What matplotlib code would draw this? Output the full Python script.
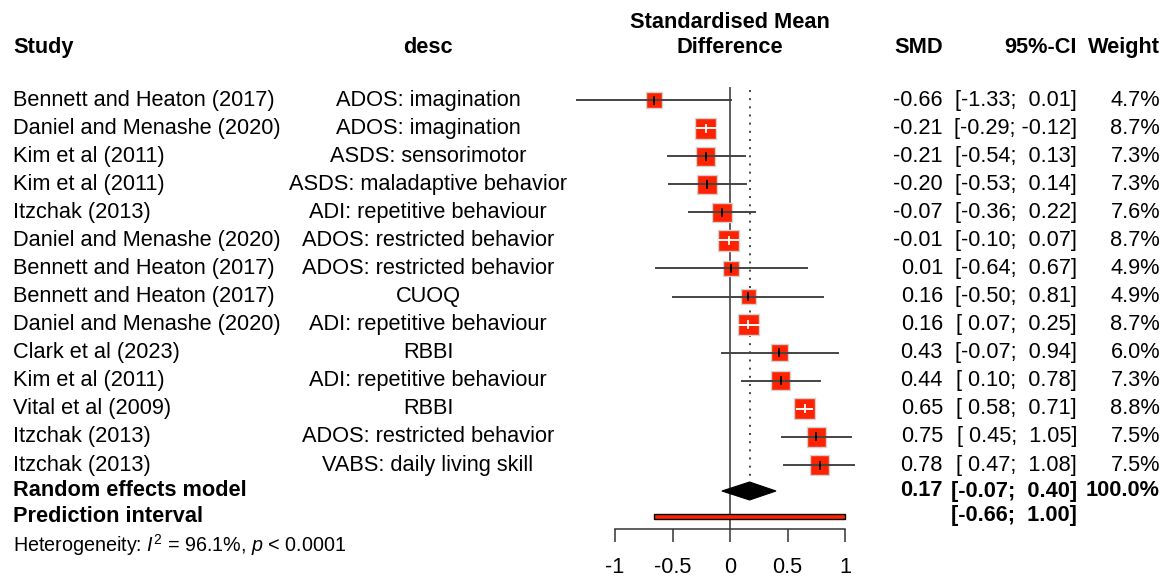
import matplotlib
matplotlib.use("Agg")
import matplotlib.pyplot as plt
from matplotlib.patches import Rectangle, Polygon
from matplotlib.transforms import blended_transform_factory

plt.rcParams["font.family"] = ["Liberation Sans", "DejaVu Sans"]
plt.rcParams["mathtext.fontset"] = "custom"
plt.rcParams["mathtext.rm"] = "Liberation Sans"
plt.rcParams["mathtext.it"] = "Liberation Sans:italic"

studies = ["Bennett and Heaton (2017)", "Daniel and Menashe (2020)", "Kim et al (2011)",
           "Kim et al (2011)", "Itzchak (2013)", "Daniel and Menashe (2020)",
           "Bennett and Heaton (2017)", "Bennett and Heaton (2017)", "Daniel and Menashe (2020)",
           "Clark et al (2023)", "Kim et al (2011)", "Vital et al (2009)",
           "Itzchak (2013)", "Itzchak (2013)"]
desc = ["ADOS: imagination", "ADOS: imagination", "ASDS: sensorimotor",
        "ASDS: maladaptive behavior", "ADI: repetitive behaviour", "ADOS: restricted behavior",
        "ADOS: restricted behavior", "CUOQ", "ADI: repetitive behaviour", "RBBI",
        "ADI: repetitive behaviour", "RBBI", "ADOS: restricted behavior",
        "VABS: daily living skill"]
smd = [-0.66, -0.21, -0.21, -0.20, -0.07, -0.01, 0.01, 0.16, 0.16, 0.43, 0.44, 0.65, 0.75, 0.78]
ci_lo = [-1.33, -0.29, -0.54, -0.53, -0.36, -0.10, -0.64, -0.50, 0.07, -0.07, 0.10, 0.58, 0.45, 0.47]
ci_hi = [0.01, -0.12, 0.13, 0.14, 0.22, 0.07, 0.67, 0.81, 0.25, 0.94, 0.78, 0.71, 1.05, 1.08]
weight = [4.7, 8.7, 7.3, 7.3, 7.6, 8.7, 4.9, 4.9, 8.7, 6.0, 7.3, 8.8, 7.5, 7.5]

re_est, re_lo, re_hi = 0.17, -0.07, 0.40
pi_lo, pi_hi = -0.66, 1.00
xticks = [-1, -0.5, 0, 0.5, 1]
xtick_labels = ["-1", "-0.5", "0", "0.5", "1"]

W, H = 1165, 578
PX_X = 115.0    # pixels per SMD unit
PX_Y = 28.08    # pixels per row
ROW0 = 100      # pixel y of first study row


def row_of(py):
    return (py - ROW0) / PX_Y


fs = 15.7
fig = plt.figure(figsize=(W / 100, H / 100), dpi=100)
ax = fig.add_axes([615 / W, (H - 529) / H, 230 / W, (529 - 87) / H])
ax.set_xlim(-1, 1)
ax.set_ylim(row_of(529), row_of(87))
for s in ["left", "top", "right"]:
    ax.spines[s].set_visible(False)
ax.spines["bottom"].set_linewidth(1.1)
ax.spines["bottom"].set_color("#333333")
ax.set_yticks([])
ax.set_xticks(xticks)
ax.set_xticklabels(xtick_labels, fontsize=fs)
ax.tick_params(axis="x", length=9.5, width=1.1, color="#333333", pad=10.5)

tr = blended_transform_factory(fig.transFigure, ax.transData)
dark = "#444444"
red = "#ff2200"

# reference lines
ax.axvline(0, color="#333333", lw=1.1, zorder=1)
ax.plot([re_est, re_est], [row_of(90), row_of(481)], color="#444444", lw=1.4,
        ls=(0, (1.0, 3.2)), zorder=1, clip_on=False)

for k in range(len(smd)):
    side = 21 * (weight[k] / 8.7) ** 0.5
    w = side / PX_X
    h = side / PX_Y
    inside = (ci_hi[k] - ci_lo[k]) * PX_X < side * 1.05
    ax.add_patch(Rectangle((smd[k] - w / 2, k - h / 2), w, h, facecolor=red,
                           edgecolor="#d2d2d2", lw=1.0, zorder=2, clip_on=False))
    col = "white" if inside else dark
    ax.plot([ci_lo[k], ci_hi[k]], [k, k], color=col, lw=1.4, zorder=3, clip_on=False)
    tick_col = "white" if inside else "black"
    ax.plot([smd[k], smd[k]], [k - 3.5 / PX_Y, k + 3.5 / PX_Y], color=tick_col, lw=1.3, zorder=4)

    ax.text(13 / W, k, studies[k], transform=tr, fontsize=fs, va="center", ha="left")
    ax.text(428 / W, k, desc[k], transform=tr, fontsize=fs, va="center", ha="center")
    ax.text(943 / W, k, f"{smd[k]:.2f}", transform=tr, fontsize=fs, va="center", ha="right")
    ax.text(1077 / W, k, f"[{ci_lo[k]:5.2f}; {ci_hi[k]:5.2f}]",
            transform=tr, fontsize=fs, va="center", ha="right")
    ax.text(1160 / W, k, f"{weight[k]:.1f}%", transform=tr, fontsize=fs, va="center", ha="right")

# random effects diamond
k_re = row_of(491)
dh = 9 / PX_Y
ax.add_patch(Polygon([[re_lo, k_re], [re_est, k_re - dh], [re_hi, k_re], [re_est, k_re + dh]],
                     closed=True, facecolor="black", edgecolor="black", lw=0.8, zorder=3,
                     clip_on=False))

# prediction interval
k_pi = row_of(516)
ph = 5 / PX_Y
ax.add_patch(Rectangle((pi_lo, k_pi - ph / 2), pi_hi - pi_lo, ph, facecolor=red,
                       edgecolor="black", lw=1.0, zorder=3, clip_on=False))

# headers
k_h = row_of(47)
bold = dict(transform=tr, fontsize=fs, va="center", fontweight="bold")
ax.text(13 / W, k_h, "Study", ha="left", **bold)
ax.text(428 / W, k_h, "desc", ha="center", **bold)
ax.text(730 / W, row_of(23), "Standardised Mean", ha="center", **bold)
ax.text(730 / W, k_h, "Difference", ha="center", **bold)
ax.text(943 / W, k_h, "SMD", ha="right", **bold)
ax.text(1077 / W, k_h, "95%-CI", ha="right", **bold)
ax.text(1160 / W, k_h, "Weight", ha="right", **bold)

# summary rows
ax.text(13 / W, k_re, "Random effects model", ha="left", **bold)
ax.text(943 / W, k_re, f"{re_est:.2f}", ha="right", **bold)
ax.text(1077 / W, k_re, f"[{re_lo:5.2f}; {re_hi:5.2f}]", ha="right", **bold)
ax.text(1160 / W, k_re, "100.0%", ha="right", **bold)
ax.text(13 / W, k_pi, "Prediction interval", ha="left", **bold)
ax.text(1077 / W, k_pi, f"[{pi_lo:5.2f}; {pi_hi:5.2f}]", ha="right", **bold)
ax.text(13 / W, row_of(545), r"Heterogeneity: $I^2$ = 96.1%, $p$ < 0.0001", transform=tr,
        fontsize=14.2, va="center", ha="left")

fig.savefig("out.png", dpi=100, facecolor="white")
